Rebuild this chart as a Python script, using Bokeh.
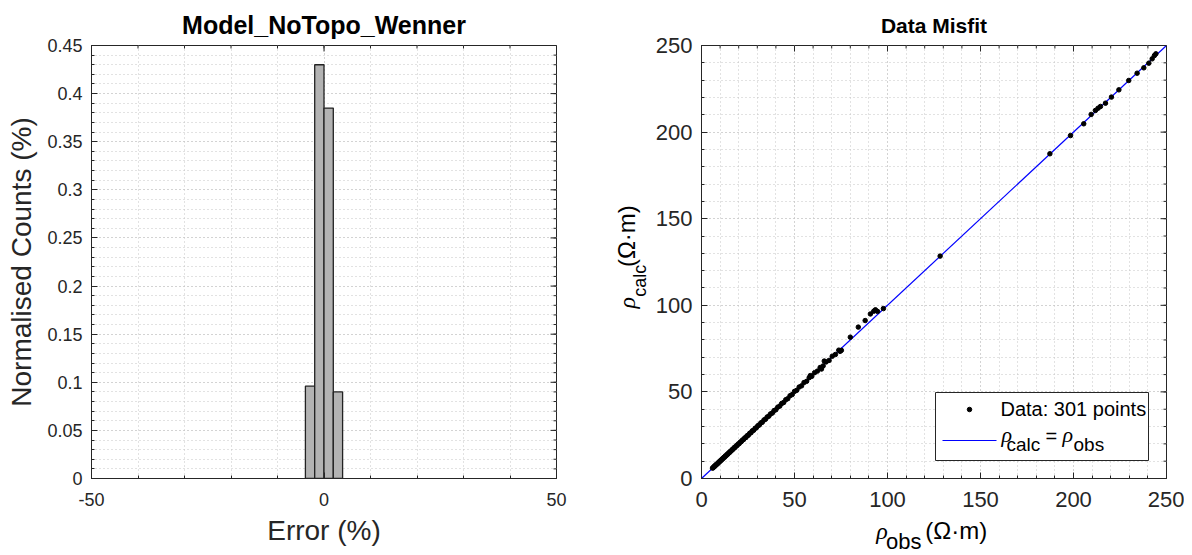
import math
from bokeh.plotting import figure
from bokeh.layouts import row, column
from bokeh.models import FixedTicker, Label, BoxAnnotation
from bokeh.core.properties import value
from bokeh.embed import file_html
from bokeh.resources import INLINE

# ---------------- data ----------------
hist_bin_edges = [-4, -2, 0, 2, 4]
hist_counts = [0.096, 0.430, 0.385, 0.090]

hist_x_ticks = [-50, 0, 50]
hist_x_labels = ["-50", "0", "50"]
hist_x_minor = [-50, -40, -30, -20, -10, 0, 10, 20, 30, 40, 50]
hist_y_ticks = [0, 0.05, 0.1, 0.15, 0.2, 0.25, 0.3, 0.35, 0.4, 0.45]
hist_y_labels = ["0", "0.05", "0.1", "0.15", "0.2", "0.25", "0.3", "0.35", "0.4", "0.45"]
hist_y_minor = [0, 0.01, 0.02, 0.03, 0.04, 0.05, 0.06, 0.07, 0.08, 0.09,
                0.1, 0.11, 0.12, 0.13, 0.14, 0.15, 0.16, 0.17, 0.18, 0.19,
                0.2, 0.21, 0.22, 0.23, 0.24, 0.25, 0.26, 0.27, 0.28, 0.29,
                0.3, 0.31, 0.32, 0.33, 0.34, 0.35, 0.36, 0.37, 0.38, 0.39,
                0.4, 0.41, 0.42, 0.43, 0.44, 0.45]

rho_obs = [
    5.9, 6.3, 6.6, 7.0, 7.3, 7.7, 8.0, 8.4, 8.8, 9.1,
    9.5, 9.9, 10.3, 10.7, 11.1, 11.5, 11.9, 12.4, 12.8, 13.2,
    13.7, 14.1, 14.6, 15.0, 15.5, 16.0, 16.5, 17.0, 17.5, 18.0,
    18.6, 19.1, 19.7, 20.2, 20.8, 21.4, 22.0, 22.6, 23.2, 23.9,
    24.5, 25.2, 25.9, 26.6, 27.3, 28.0, 28.8, 29.5, 30.3, 31.1,
    31.9, 32.7, 33.6, 34.4, 35.3, 36.2, 37.1, 38.1, 39.0, 40.0,
    41.0, 42.1, 43.1, 44.2, 45.3, 46.4, 47.6, 48.8, 50.0, 51.2,
    52.5, 53.8, 55.1, 56.5, 57.9, 59.3, 60.8, 62.3, 63.8, 65.4,
    67.0, 68.6, 70.3, 72.0, 73.8, 74.5, 75.2, 64.5, 66.0, 58.5,
    80.0, 84.3, 88.0, 90.8, 92.6, 93.5, 94.6, 97.8, 128.3, 187.3,
    198.4, 205.5, 209.5, 211.8, 213.2, 214.5, 217.2, 220.4, 224.4, 229.7,
    234.2, 237.8, 240.5, 242.3, 243.5, 244.3,
]
rho_calc = [
    6.0, 6.2, 6.8, 6.9, 7.5, 7.6, 8.2, 8.3, 8.9, 9.0,
    9.7, 9.8, 10.5, 10.6, 11.3, 11.4, 12.1, 12.3, 13.0, 13.1,
    13.9, 14.0, 14.8, 14.9, 15.7, 15.9, 16.7, 16.9, 17.8, 17.9,
    18.8, 19.0, 19.9, 20.1, 21.0, 21.3, 22.2, 22.5, 23.4, 23.7,
    24.7, 25.0, 26.1, 26.4, 27.5, 27.8, 29.0, 29.3, 30.5, 30.9,
    32.1, 32.5, 33.8, 34.2, 35.5, 36.0, 37.3, 37.8, 39.2, 39.7,
    41.2, 41.8, 43.3, 43.9, 45.5, 46.1, 47.8, 48.5, 50.3, 50.9,
    52.8, 53.5, 55.4, 56.1, 58.2, 59.0, 61.1, 62.0, 64.1, 65.0,
    67.3, 68.2, 70.6, 71.6, 74.1, 73.4, 74.0, 63.2, 67.8, 59.4,
    81.6, 87.4, 91.2, 95.0, 96.6, 97.4, 96.5, 98.1, 128.4, 187.5,
    198.0, 204.8, 210.2, 212.5, 213.8, 214.8, 216.7, 220.2, 224.4, 229.8,
    234.0, 237.1, 239.8, 242.3, 244.2, 245.2,
]
ref_line = [0, 250]
mis_ticks = [0, 50, 100, 150, 200, 250]
mis_minor = [0, 10, 20, 30, 40, 50, 60, 70, 80, 90, 100, 110, 120, 130, 140, 150,
             160, 170, 180, 190, 200, 210, 220, 230, 240, 250]

# ---------------- styling ----------------
FONT = "Liberation Sans"
GREEK = "Liberation Serif"
AX = "#262626"
GRID = "#c4c4c4"
FW, FH = 465, 433
MAJ, MIN = 6, 3
H = 555


def style_axis(ax, size, standoff):
    ax.axis_line_color = AX
    ax.major_tick_line_color = AX
    ax.minor_tick_line_color = AX
    ax.major_tick_in = MAJ
    ax.major_tick_out = 0
    ax.minor_tick_in = MIN
    ax.minor_tick_out = 0
    ax.major_label_text_font = FONT
    ax.major_label_text_color = AX
    ax.major_label_text_font_size = size
    ax.major_label_standoff = standoff


def style_grid(p):
    for g in (p.xgrid, p.ygrid):
        g.grid_line_color = GRID
        g.grid_line_dash = "1 3"
        g.minor_grid_line_color = GRID
        g.minor_grid_line_dash = "1 3"


def box_ticks(p, x0, x1, y0, y1, xmaj, xmin, ymaj, ymin):
    # inward ticks on the top and right edges (box on)
    dy = (y1 - y0) / FH
    dx = (x1 - x0) / FW
    p.segment(x0=xmin, x1=xmin, y0=[y1] * len(xmin), y1=[y1 - MIN * dy] * len(xmin), line_color=AX)
    p.segment(x0=xmaj, x1=xmaj, y0=[y1] * len(xmaj), y1=[y1 - MAJ * dy] * len(xmaj), line_color=AX)
    p.segment(x0=[x1] * len(ymin), x1=[x1 - MIN * dx] * len(ymin), y0=ymin, y1=ymin, line_color=AX)
    p.segment(x0=[x1] * len(ymaj), x1=[x1 - MAJ * dx] * len(ymaj), y0=ymaj, y1=ymaj, line_color=AX)


def title(p, text, size, standoff):
    p.title.text = text
    p.title.align = "center"
    p.title.text_font = FONT
    p.title.text_font_size = size
    p.title.text_font_style = "bold"
    p.title.text_color = "black"
    p.title.standoff = standoff


# ---------------- left: histogram ----------------
p1 = figure(width=608, height=H, x_range=(-50, 50), y_range=(0, 0.45),
            output_backend="svg", toolbar_location=None,
            min_border_left=91, min_border_right=52, min_border_top=45,
            min_border_bottom=77)
p1.outline_line_color = AX
p1.border_fill_color = "white"
title(p1, "Model_NoTopo_Wenner", "25px", 13)

p1.xaxis.ticker = FixedTicker(ticks=hist_x_ticks, minor_ticks=hist_x_minor)
p1.yaxis.ticker = FixedTicker(ticks=hist_y_ticks, minor_ticks=hist_y_minor)
p1.xaxis.major_label_overrides = dict(zip(hist_x_ticks, hist_x_labels))
p1.yaxis.major_label_overrides = dict(zip(hist_y_ticks, hist_y_labels))
style_axis(p1.xaxis[0], "18px", 14)
style_axis(p1.yaxis[0], "18px", 9)
p1.xaxis.axis_label = "Error (%)"
p1.yaxis.axis_label = "Normalised Counts (%)"
for ax in (p1.xaxis[0], p1.yaxis[0]):
    ax.axis_label_text_font = FONT
    ax.axis_label_text_font_style = "normal"
    ax.axis_label_text_font_size = "28px"
    ax.axis_label_text_color = AX
p1.xaxis.axis_label_standoff = 6
p1.yaxis.axis_label_standoff = 7
style_grid(p1)

p1.quad(left=hist_bin_edges[:-1], right=hist_bin_edges[1:], bottom=0, top=hist_counts,
        fill_color="#b3b3b3", line_color="#222222", line_width=1.3)
box_ticks(p1, -50, 50, 0, 0.45, hist_x_ticks, hist_x_minor, hist_y_ticks, hist_y_minor)

# ---------------- right: data misfit ----------------
YS_W = 44          # strip holding the rotated y label
XS_H = 37          # strip holding the x label
P2_W = 532
p2 = figure(width=P2_W, height=H - XS_H, x_range=(0, 250), y_range=(0, 250),
            output_backend="svg", toolbar_location=None,
            min_border_left=49, min_border_right=18, min_border_top=45,
            min_border_bottom=H - XS_H - 45 - FH)
p2.outline_line_color = AX
p2.border_fill_color = "white"
title(p2, "Data Misfit", "21px", 18)

p2.xaxis.ticker = FixedTicker(ticks=mis_ticks, minor_ticks=mis_minor)
p2.yaxis.ticker = FixedTicker(ticks=mis_ticks, minor_ticks=mis_minor)
style_axis(p2.xaxis[0], "22px", 13)
style_axis(p2.yaxis[0], "22px", 9)
style_grid(p2)

p2.line(ref_line, ref_line, line_color="#0000ff", line_width=1.2)
p2.scatter(rho_obs, rho_calc, size=4.5, color="black")
box_ticks(p2, 0, 250, 0, 250, mis_ticks, mis_minor, mis_ticks, mis_minor)

sx = 250 / FW   # data units per pixel (x)
sy = 250 / FH   # data units per pixel (y)

# legend (layout positions in pixels relative to frame bottom-left)
LEG_L, LEG_R, LEG_B, LEG_T = 234, 447, 18, 86
p2.add_layout(BoxAnnotation(left=LEG_L * sx, right=LEG_R * sx, bottom=LEG_B * sy, top=LEG_T * sy,
                            fill_color="white", fill_alpha=1.0,
                            line_color=AX, line_width=1, line_alpha=1.0))
p2.scatter([268 * sx], [69 * sy], size=4.5, color="black", level="overlay")
p2.line([241 * sx, 295 * sx], [38 * sy, 38 * sy], line_color="#0000ff",
        line_width=1.2, level="overlay")


def lab(p, x, y, text, size, greek=False):
    p.add_layout(Label(x=x, y=y, text=text,
                       text_align="left", text_baseline="alphabetic",
                       text_font=GREEK if greek else FONT,
                       text_font_style="italic" if greek else "normal",
                       text_font_size=size, text_color="black"))


lab(p2, 299 * sx, 70 * sy, "Data: 301 points", "20px")
lab(p2, 300 * sx, 44 * sy, "ρ", "22px", greek=True)
lab(p2, 305 * sx, 34 * sy, "calc", "19px")
lab(p2, 344 * sx, 43 * sy, "=", "20px")
lab(p2, 361 * sx, 44 * sy, "ρ", "22px", greek=True)
lab(p2, 372 * sx, 34 * sy, "obs", "19px")


# ---------------- label strips (pixel coordinates) ----------------
def strip(w, h):
    s = figure(width=w, height=h, x_range=(0, w), y_range=(0, h),
               output_backend="svg", toolbar_location=None,
               x_axis_location=None, y_axis_location=None,
               min_border=0, min_border_left=0, min_border_right=0,
               min_border_top=0, min_border_bottom=0)
    s.outline_line_color = None
    s.border_fill_color = "white"
    s.background_fill_color = "white"
    s.grid.visible = False
    return s


def piece(s, x, y, text, size, greek=False, angle=0.0):
    s.text(x=[x], y=[y], text=[text], angle=angle,
           text_align="left", text_baseline="alphabetic",
           text_font=value(GREEK if greek else FONT),
           text_font_style="italic" if greek else "normal",
           text_font_size=value(size), text_color="black")


# y label: rho_calc (Ω·m), rotated
ys = strip(YS_W, H)
piece(ys, 18, 218, "ρ", "24px", greek=True, angle=math.pi / 2)
piece(ys, 31, 233, "calc", "18px", angle=math.pi / 2)
piece(ys, 18, 271, "(Ω·m)", "24px", angle=math.pi / 2)

# x label: rho_obs (Ω·m)
xs = strip(P2_W, XS_H)
piece(xs, 200, 25, "ρ", "24px", greek=True)
piece(xs, 211, 14, "obs", "22px")
piece(xs, 256, 25, "(Ω·m)", "24px")

layout = row(p1, ys, column(p2, xs))
open("out.html", "w").write(file_html(layout, INLINE))
